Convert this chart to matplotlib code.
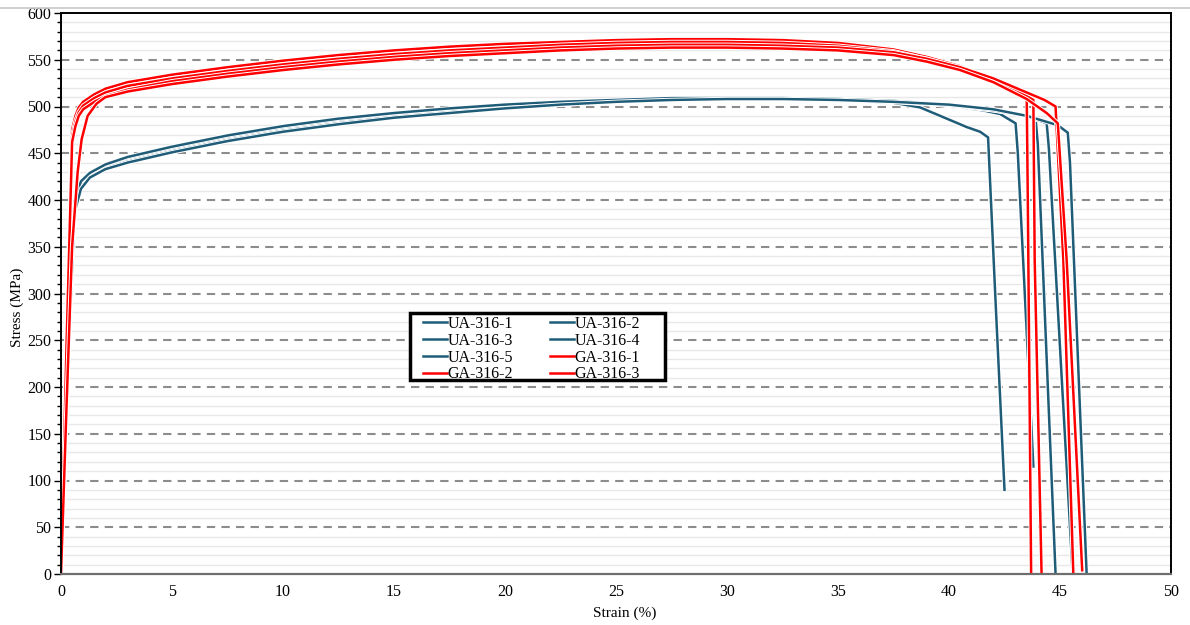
import matplotlib.pyplot as plt
import matplotlib.patheffects as pe
from matplotlib.lines import Line2D
from matplotlib.patches import Rectangle
from matplotlib.ticker import MultipleLocator

plt.rcParams['font.family'] = ['Liberation Serif', 'DejaVu Serif']

BLUE = '#1f5c78'
RED = '#ff0000'

# ---- UA-316 specimens (strain %, stress MPa) ----
ua1_strain = [0, 0.3, 0.6, 0.9, 1.3, 2, 3, 5, 7.5, 10, 12.5, 15, 17.5, 20, 22.5, 25,
              27.5, 30, 32.5, 35, 37.5, 38.7, 40.0, 40.8, 41.4, 41.76, 42.1, 42.5]
ua1_stress = [0, 220, 392, 416, 426, 434, 441, 452, 464, 474, 482, 488, 494, 498, 502, 505,
              507, 508, 508, 507, 504, 499, 486, 478, 473, 467, 290, 90]

ua2_strain = [0, 0.3, 0.6, 0.9, 1.3, 2, 3, 5, 7.5, 10, 12.5, 15, 17.5, 20, 22.5, 25,
              27.5, 30, 32.5, 35, 37.5, 40, 41.5, 42.3, 43.0, 43.1, 43.8]
ua2_stress = [0, 225, 396, 419, 428, 437, 445, 456, 468, 478, 486, 492, 497, 501, 504, 506,
              508, 509, 509, 508, 506, 501, 496, 492, 482, 450, 115]

ua3_strain = [0, 0.3, 0.6, 0.9, 1.3, 2, 3, 5, 7.5, 10, 12.5, 15, 17.5, 20, 22.5, 25,
              27.5, 30, 32.5, 35, 37.5, 40, 42, 43.3, 43.9, 44.0, 44.8]
ua3_stress = [0, 215, 388, 414, 425, 434, 441, 452, 464, 474, 482, 489, 494, 499, 502, 505,
              507, 508, 508, 507, 505, 501, 496, 491, 487, 460, 0]

ua4_strain = [0, 0.3, 0.6, 0.9, 1.3, 2, 3, 5, 7.5, 10, 12.5, 15, 17.5, 20, 22.5, 25,
              27.5, 30, 32.5, 35, 37.5, 40, 42, 43.5, 44.4, 44.5, 45.57]
ua4_stress = [0, 228, 398, 420, 429, 438, 446, 457, 469, 479, 487, 493, 498, 502, 505, 507,
              509, 509, 509, 508, 506, 502, 496, 490, 482, 455, 0]

ua5_strain = [0, 0.3, 0.6, 0.9, 1.3, 2, 3, 5, 7.5, 10, 12.5, 15, 17.5, 20, 22.5, 25,
              27.5, 30, 32.5, 35, 37.5, 40, 42, 43.5, 44.9, 45.35, 45.45, 46.2]
ua5_stress = [0, 212, 386, 412, 424, 433, 440, 451, 463, 473, 481, 488, 493, 498, 502, 505,
              507, 508, 508, 507, 505, 502, 497, 490, 480, 472, 440, 0]

# ---- GA-316 specimens ----
ga1_strain = [0, 0.25, 0.5, 0.65, 0.8, 1.0, 1.5, 2, 3, 5, 7.5, 10, 12.5, 15, 17.5, 20, 22.5,
              25, 27.5, 30, 32.5, 35, 37.5, 39, 40.5, 42, 43.0, 43.5, 43.55, 43.7]
ga1_stress = [0, 260, 475, 490, 499, 505, 513, 519, 526, 534, 542, 549, 555, 560, 564, 567, 569,
              571, 572, 572, 571, 568, 561, 553, 543, 528, 519, 512, 400, 0]

ga2_strain = [0, 0.25, 0.5, 0.65, 0.8, 1.0, 1.5, 2, 3, 5, 7.5, 10, 12.5, 15, 17.5, 20, 22.5,
              25, 27.5, 30, 32.5, 35, 37.5, 39, 40.5, 42, 43.0, 43.8, 43.86, 44.17]
ga2_stress = [0, 250, 468, 484, 494, 501, 509, 515, 522, 530, 538, 545, 551, 556, 560, 563, 566,
              568, 569, 569, 568, 565, 559, 551, 541, 527, 518, 507, 336, 0]

ga3_strain = [0, 0.25, 0.5, 0.65, 0.8, 1.0, 1.5, 2, 3, 5, 7.5, 10, 12.5, 15, 17.5, 20, 22.5,
              25, 27.5, 30, 32.5, 35, 37.5, 39, 40.5, 42, 43.5, 44.3, 44.8, 45.15, 45.6]
ga3_stress = [0, 245, 462, 479, 490, 497, 505, 511, 518, 527, 535, 542, 548, 553, 557, 560, 563,
              565, 566, 566, 565, 563, 558, 551, 542, 530, 515, 507, 500, 336, 0]

ga4_strain = [0, 0.25, 0.5, 0.75, 0.93, 1.2, 1.6, 2, 3, 5, 7.5, 10, 12.5, 15, 17.5, 20, 22.5,
              25, 27.5, 30, 32.5, 35, 37.5, 39, 40.5, 42, 43.5, 44.4, 44.9, 45.3, 46.0]
ga4_stress = [0, 180, 350, 430, 465, 490, 503, 510, 516, 524, 532, 539, 545, 550, 554, 557, 560,
              562, 563, 563, 562, 560, 555, 548, 539, 526, 508, 493, 482, 336, 4]

curves = [
    ('UA-316-1', ua1_strain, ua1_stress, BLUE),
    ('UA-316-2', ua2_strain, ua2_stress, BLUE),
    ('UA-316-3', ua3_strain, ua3_stress, BLUE),
    ('UA-316-4', ua4_strain, ua4_stress, BLUE),
    ('UA-316-5', ua5_strain, ua5_stress, BLUE),
    ('GA-316-1', ga1_strain, ga1_stress, RED),
    ('GA-316-2', ga2_strain, ga2_stress, RED),
    ('GA-316-3', ga3_strain, ga3_stress, RED),
    ('_nolegend_', ga4_strain, ga4_stress, RED),
]

W, H = 1190, 625
X0, X1, Y0, Y1 = 61, 1171, 13, 574   # axes box in pixels


def px_to_axes(x, y):
    return (x - X0) / (X1 - X0), (Y1 - y) / (Y1 - Y0)


def main():
    fig = plt.figure(figsize=(W / 100, H / 100), dpi=100)
    ax = fig.add_axes([X0 / W, (H - Y1) / H, (X1 - X0) / W, (Y1 - Y0) / H])

    # minor and major horizontal grid
    for y in range(10, 600, 10):
        if y % 50:
            ax.axhline(y, color='#e8e8e8', lw=1.0, zorder=0)
        else:
            ax.axhline(y, color='#8c8c8c', lw=1.5, ls=(0, (4, 3)), zorder=0)

    colors = {}
    for label, strain, stress, color in curves:
        ax.plot(strain, stress, color=color, lw=1.8, label=label,
                path_effects=[pe.Stroke(linewidth=3.2, foreground='white'), pe.Normal()])
        colors[label] = color

    ax.set_xlim(0, 50)
    ax.set_ylim(0, 600)
    ax.xaxis.set_major_locator(MultipleLocator(5))
    ax.yaxis.set_major_locator(MultipleLocator(50))
    ax.yaxis.set_minor_locator(MultipleLocator(10))
    ax.tick_params(axis='x', length=0, labelsize=11.5, pad=7)
    ax.tick_params(axis='y', which='major', length=5, width=1, labelsize=11.5, pad=2)
    ax.tick_params(axis='y', which='minor', length=3, width=1)

    for side in ['left', 'top', 'right']:
        ax.spines[side].set_color('black')
        ax.spines[side].set_linewidth(1.4)
    ax.spines['bottom'].set_color('#6e6e6e')
    ax.spines['bottom'].set_linewidth(1.6)

    ax.set_xlabel('Strain (%)', fontsize=11)
    ax.set_ylabel('Stress (MPa)', fontsize=11)
    ax.xaxis.set_label_coords(*px_to_axes(625, 613))
    ax.yaxis.set_label_coords(*px_to_axes(17, 307))
    ax.xaxis.label.set_va('center')
    ax.yaxis.label.set_va('center')

    # legend box
    bx, by = px_to_axes(410, 380)
    bw = 255 / (X1 - X0)
    bh = 67 / (Y1 - Y0)
    ax.add_patch(Rectangle((bx, by), bw, bh, transform=ax.transAxes, facecolor='white',
                           edgecolor='black', lw=2.5, zorder=4.9))

    order = ['UA-316-1', 'UA-316-3', 'UA-316-5', 'GA-316-2',
             'UA-316-2', 'UA-316-4', 'GA-316-1', 'GA-316-3']
    proxies = [Line2D([], [], color=colors[k], lw=1.8) for k in order]
    leg = ax.legend(proxies, order, ncol=2, loc='upper left',
                    bbox_to_anchor=px_to_axes(423, 316), borderaxespad=0, borderpad=0,
                    fontsize=11.5, frameon=False, handlelength=1.5,
                    handletextpad=0.05, columnspacing=2.3, labelspacing=0.05)
    leg.set_zorder(5)

    fig.add_artist(Line2D([0, 1], [1 - 8 / H, 1 - 8 / H], color='#c8c8c8', lw=1.2))

    plt.savefig('out.png', dpi=100)


if __name__ == '__main__':
    main()
